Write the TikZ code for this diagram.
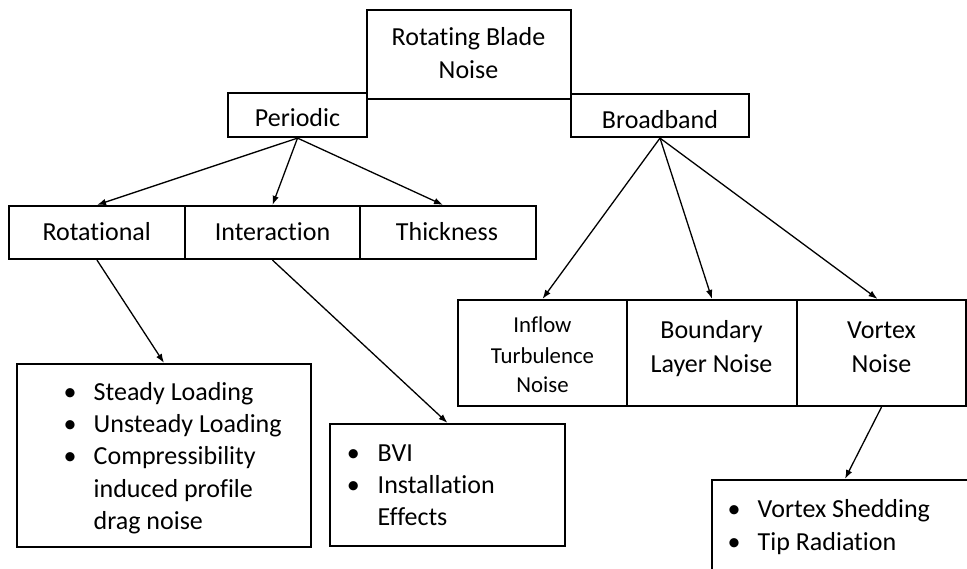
\documentclass[tikz,border=0pt]{standalone}
\usepackage{fontspec}
\setmainfont{Carlito}[Ligatures=NoCommon]
\usetikzlibrary{arrows.meta}
\begin{document}
\begin{tikzpicture}[x=1pt,y=-1pt,
  box/.style={draw, line width=2.2pt, inner sep=0pt},
  txt/.style={inner sep=0pt, anchor=base, font=\fontsize{26}{30}\selectfont},
  txtl/.style={txt, anchor=base west},
  small/.style={txt, font=\fontsize{22.8}{26}\selectfont},
  bul/.style={txt},
  arr/.style={-{Latex[length=9pt,width=6.5pt]}, line width=1.3pt}
]
\clip (0,0) rectangle (967,568);
% boxes
\node[box, minimum width=204pt, minimum height=89pt] (rbn) at (469,54.5) {};
\node[box, minimum width=139pt, minimum height=44pt] (per) at (297.5,115) {};
\node[box, minimum width=178pt, minimum height=43pt] (bb) at (660,115.5) {};
\node[box, minimum width=176pt, minimum height=53pt] (rot) at (97,232.5) {};
\node[box, minimum width=175pt, minimum height=53pt] (int) at (272.5,232.5) {};
\node[box, minimum width=176pt, minimum height=53pt] (thk) at (448,232.5) {};
\node[box, minimum width=169pt, minimum height=106pt] (inf) at (542.5,353) {};
\node[box, minimum width=170pt, minimum height=106pt] (bnd) at (712,353) {};
\node[box, minimum width=169pt, minimum height=106pt] (vor) at (881.5,353) {};
\node[box, minimum width=294pt, minimum height=183pt] (rl) at (164,455.5) {};
\node[box, minimum width=235pt, minimum height=122pt] (il) at (447.5,485) {};
\node[box, minimum width=270pt, minimum height=110pt] (vl) at (847,535) {};
% labels
\node[txt] (t1) at (468.5,45) {Rotating Blade};
\node[txt] (t2) at (468.5,78) {Noise};
\node[txt] (t3) at (297.5,126.7) {Periodic};
\node[txt] (t4) at (660,128.3) {Broadband};
\node[txt] (t5) at (96.7,240) {Rotational};
\node[txt] (t6) at (272.5,240) {Interaction};
\node[txt] (t7) at (447,240) {Thickness};
\node[small] (t8) at (542.5,332.7) {Inflow};
\node[small] (t9) at (542.5,363) {Turbulence};
\node[small] (t10) at (542.5,392.5) {Noise};
\node[txt] (t11) at (711.5,338.7) {Boundary};
\node[txt] (t12) at (711.5,372.4) {Layer Noise};
\node[txt] (t13) at (881.5,338.7) {Vortex};
\node[txt] (t14) at (881.5,372.4) {Noise};
% list under Rotational
\node[bul] (b1) at (70,400.7) {•};
\node[txtl] (l1) at (93.5,400.7) {Steady Loading};
\node[bul] (b2) at (70,432.8) {•};
\node[txtl] (l2) at (93.5,432.8) {Unsteady Loading};
\node[bul] (b3) at (70,464.9) {•};
\node[txtl] (l3) at (93.5,464.9) {Compressibility};
\node[txtl] (l4) at (93.5,497) {induced profile};
\node[txtl] (l5) at (93.5,529.1) {drag noise};
% list under Interaction
\node[bul] (b4) at (353.3,461) {•};
\node[txtl] (l6) at (377.5,461) {BVI};
\node[bul] (b5) at (353.3,493) {•};
\node[txtl] (l7) at (377.5,493) {Installation};
\node[txtl] (l8) at (377.5,525) {Effects};
% list under Vortex Noise
\node[bul] (b6) at (734,517) {•};
\node[txtl] (l9) at (757.5,517) {Vortex Shedding};
\node[bul] (b7) at (734,550) {•};
\node[txtl] (l10) at (757.5,550) {Tip Radiation};
% connectors
\draw[arr] (per.south) -- (rot.north);
\draw[arr] (per.south) -- (int.north);
\draw[arr] (per.south) -- ([xshift=-5pt]thk.north);
\draw[arr] (bb.south) -- (inf.north);
\draw[arr] (bb.south) -- (bnd.north);
\draw[arr] (bb.south) -- ([xshift=-4pt]vor.north);
\draw[arr] (rot.south) -- (rl.north);
\draw[arr] (int.south) -- (il.north);
\draw[arr] (vor.south) -- ([xshift=-2pt]vl.north);
\end{tikzpicture}
\end{document}
